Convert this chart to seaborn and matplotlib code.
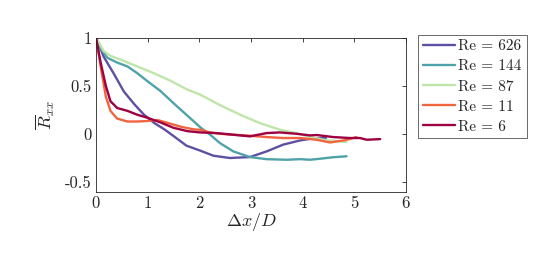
import pandas as pd
import matplotlib
matplotlib.use("Agg")
import matplotlib.pyplot as plt
import seaborn as sns

# Autocorrelation curves, one pair of lists per Re
x_626 = [0, 0.15, 0.35, 0.54, 0.74, 0.93, 1.12, 1.32, 1.5, 1.75, 2.01, 2.27, 2.59, 2.98, 3.30, 3.62, 3.95, 4.14, 4.45]
r_626 = [1, 0.80, 0.62, 0.44, 0.31, 0.20, 0.117, 0.05, -0.02, -0.12, -0.17, -0.224, -0.248, -0.238, -0.18, -0.11, -0.066, -0.05, -0.04]

x_144 = [0, 0.09, 0.22, 0.41, 0.61, 0.80, 0.99, 1.25, 1.5, 1.77, 2.03, 2.21, 2.40, 2.66, 2.98, 3.30, 3.69, 3.95, 4.14, 4.33, 4.59, 4.85]
r_144 = [1, 0.89, 0.79, 0.74, 0.70, 0.63, 0.55, 0.445, 0.32, 0.19, 0.065, -0.007, -0.094, -0.18, -0.238, -0.26, -0.266, -0.26, -0.266, -0.256, -0.24, -0.23]

x_87 = [0, 0.15, 0.28, 0.48, 0.80, 1.12, 1.45, 1.77, 2.01, 2.40, 2.79, 3.17, 3.56, 3.88, 4.14, 4.40, 4.85]
r_87 = [1, 0.86, 0.81, 0.77, 0.70, 0.63, 0.55, 0.46, 0.41, 0.30, 0.20, 0.114, 0.045, 0.01, -0.03, -0.059, -0.083]

x_11 = [0, 0.09, 0.19, 0.28, 0.41, 0.61, 0.80, 0.99, 1.19, 1.38, 1.64, 1.90, 2.01, 2.21, 2.40, 2.66, 2.98, 3.30, 3.62, 3.95, 4.27, 4.53, 4.79, 4.91, 5.04]
r_11 = [1, 0.70, 0.39, 0.24, 0.16, 0.13, 0.13, 0.135, 0.145, 0.117, 0.076, 0.048, 0.045, 0.017, 0.003, -0.007, -0.017, -0.031, -0.041, -0.041, -0.059, -0.087, -0.066, -0.052, -0.031]

x_6 = [0, 0.09, 0.19, 0.28, 0.41, 0.61, 0.80, 0.99, 1.25, 1.5, 1.77, 2.01, 2.33, 2.66, 2.98, 3.30, 3.56, 3.88, 4.14, 4.27, 4.59, 4.91, 5.11, 5.24, 5.50]
r_6 = [1, 0.74, 0.50, 0.34, 0.27, 0.24, 0.20, 0.17, 0.12, 0.065, 0.03, 0.017, 0.01, -0.007, -0.024, 0.01, 0.017, 0.003, -0.014, -0.01, -0.031, -0.041, -0.041, -0.059, -0.052]

labels = ["Re = 626", "Re = 144", "Re = 87", "Re = 11", "Re = 6"]
series_x = [x_626, x_144, x_87, x_11, x_6]
series_r = [r_626, r_144, r_87, r_11, r_6]
colors = ["#5e4fa2", "#4fa3a8", "#bfe6a8", "#f0643f", "#9e0142"]

xtick_values = [0, 1, 2, 3, 4, 5, 6]
xtick_labels = ["0", "1", "2", "3", "4", "5", "6"]
ytick_values = [-0.5, 0, 0.5, 1]
ytick_labels = ["-0.5", "0", "0.5", "1"]

# Long-form table for seaborn
rows = []
for lab, xs, rs in zip(labels, series_x, series_r):
    for xv, rv in zip(xs, rs):
        rows.append({"dx": xv, "R": rv, "case": lab})
df = pd.DataFrame(rows)

sns.set_style("white")
plt.rcParams["mathtext.fontset"] = "cm"
plt.rcParams["font.family"] = ["cmr10", "DejaVu Serif"]
plt.rcParams["axes.unicode_minus"] = False

fig = plt.figure(figsize=(5.4, 2.7), dpi=100)
ax = fig.add_axes([96 / 540, 1 - 192 / 270, 310 / 540, 154.5 / 270])

sns.lineplot(data=df, x="dx", y="R", hue="case", hue_order=labels,
             palette=colors, sort=False, estimator=None, linewidth=1.7, ax=ax)

ax.set_xlim(0, 6)
ax.set_ylim(-0.6, 1)
ax.set_xticks(xtick_values)
ax.set_xticklabels(xtick_labels, fontsize=12)
ax.set_yticks(ytick_values)
ax.set_yticklabels(ytick_labels, fontsize=12)
ax.tick_params(direction="in", top=True, right=True, length=3, width=0.6, colors="#262626", pad=3)
for s in ax.spines.values():
    s.set_color("#262626")
    s.set_linewidth(0.6)
ax.set_xlabel("$\\Delta x/D$", fontsize=13, labelpad=0)
ax.set_ylabel("$\\overline{R}_{xx}$", fontsize=13, labelpad=6)

ax.legend(loc="upper left", bbox_to_anchor=(418 / 540, 1 - 35 / 270),
          bbox_transform=fig.transFigure, frameon=True, fancybox=False,
          edgecolor="#262626", fontsize=11, handlelength=2.1, handletextpad=0.25,
          borderpad=0.3, labelspacing=0.42, borderaxespad=0)
ax.get_legend().get_frame().set_linewidth(0.6)

fig.savefig("out.png", dpi=100)
